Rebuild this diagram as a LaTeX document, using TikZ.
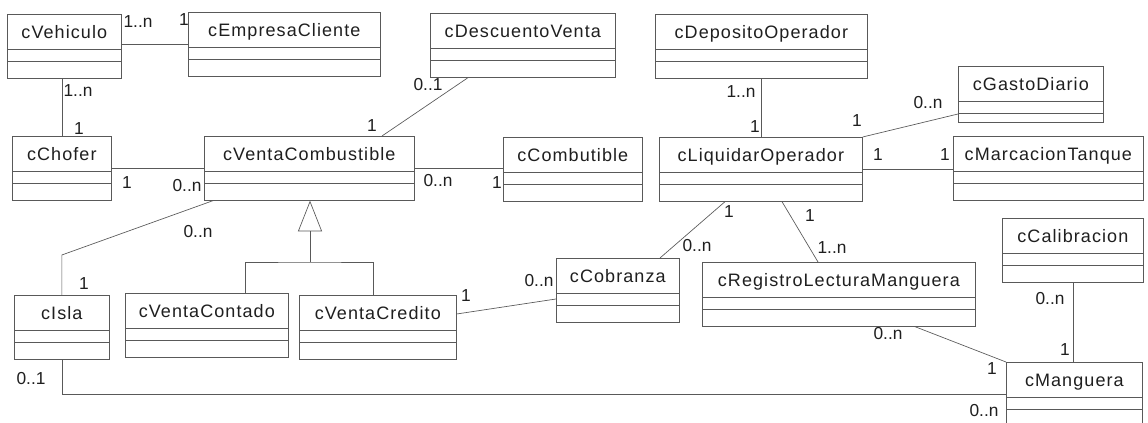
\documentclass[tikz,border=0pt]{standalone}
\usepackage{fontspec}
\setmainfont{Liberation Sans}
\newfontfamily\clsfont{Liberation Sans}[LetterSpace=6]
\usetikzlibrary{arrows.meta}

\definecolor{trazo}{gray}{0.35}
\definecolor{tinta}{gray}{0.12}

\tikzset{
	clase/.style={draw=trazo, line width=0.5pt, anchor=north west, minimum width=#1*0.75pt,
		inner xsep=0pt, inner ysep=0pt, text height=18pt, text depth=30pt, text=tinta,
		font=\clsfont\fontsize{13.5}{16}\selectfont,
		path picture={
			\draw[trazo, line width=0.5pt] ([yshift=-26.25pt]path picture bounding box.north west) -- ([yshift=-26.25pt]path picture bounding box.north east);
			\draw[trazo, line width=0.5pt] ([yshift=-35.25pt]path picture bounding box.north west) -- ([yshift=-35.25pt]path picture bounding box.north east);
		}},
	asoc/.style={draw=trazo, line width=0.5pt},
	mult/.style={text=tinta, inner sep=0pt, font=\fontsize{13}{15}\selectfont}
}

\begin{document}
\begin{tikzpicture}[x=0.75pt, y=-0.75pt]
	\fill[white] (0,0) rectangle (1148,423);
	\clip (0,0) rectangle (1148,423);   % page

	% clases
	\node[clase=114] (vehiculo) at (7,14) {cVehiculo};
	\node[clase=192] (empresa) at (188,12) {cEmpresaCliente};
	\node[clase=185] (descuento) at (430,13) {cDescuentoVenta};
	\node[clase=212] (deposito) at (655,14) {cDepositoOperador};
	\node[clase=145, text depth=24pt] (gasto) at (958,66) {cGastoDiario};   % smaller box
	\node[clase=99] (chofer) at (12,136) {cChofer};
	\node[clase=210] (venta) at (204,136) {cVentaCombustible};
	\node[clase=139] (combustible) at (503,137) {cCombutible};
	\node[clase=203] (liquidar) at (659,137) {cLiquidarOperador};
	\node[clase=190] (marcacion) at (953,136) {cMarcacionTanque};
	\node[clase=141] (calibracion) at (1002,218) {cCalibracion};
	\node[clase=123] (cobranza) at (556,258) {cCobranza};
	\node[clase=273] (registro) at (702,262) {cRegistroLecturaManguera};
	\node[clase=95] (isla) at (14,295) {cIsla};
	\node[clase=163] (contado) at (125,293) {cVentaContado};
	\node[clase=157] (credito) at (299,295) {cVentaCredito};
	\node[clase=136] (manguera) at (1006,362) {cManguera};

	% asociaciones
	\draw[asoc] (vehiculo.east |- empresa.west) -- (empresa.west);
	\draw[asoc] (chofer.north |- vehiculo.south) -- (chofer.north);
	\draw[asoc] (chofer.east) -- (chofer.east -| venta.west);
	\draw[asoc] (venta.east) -- (venta.east -| combustible.west);
	\draw[asoc] (468,0 |- descuento.south) -- (382,0 |- venta.north);
	\draw[asoc] (liquidar.north |- deposito.south) -- (liquidar.north);
	\draw[asoc] (liquidar.north east) -- (gasto.west |- 0,114);
	\draw[asoc] (liquidar.east) -- (liquidar.east -| marcacion.west);
	\draw[asoc] (725,0 |- liquidar.south) -- (660,0 |- cobranza.north);
	\draw[asoc] (782,0 |- liquidar.south) -- (818,0 |- registro.north);
	\draw[asoc] (213,0 |- venta.south) -- (isla.north |- 0,255) -- (isla.north);
	\draw[asoc] (credito.east |- 0,314) -- (cobranza.west |- 0,299);
	\draw[asoc] (915,0 |- registro.south) -- (manguera.north west);
	\draw[asoc] (calibracion.south) -- (calibracion.south |- manguera.north);
	\draw[asoc] (isla.south) -- (isla.south |- 0,394) -- (manguera.west |- 0,394);

	% herencia
	\coordinate (junta) at (310,262);
	\draw[asoc, -{Triangle[open, length=23pt, width=18pt]}] (junta) -- (310,0 |- venta.south);
	\draw[asoc] (245,0 |- contado.north) |- (junta) -| (373,0 |- credito.north);

	% multiplicidades
	\node[mult] (m1) at (138,22) {1..n};
	\node[mult] (m2) at (184,20) {1};
	\node[mult] (m3) at (78,91) {1..n};
	\node[mult] (m4) at (79,129) {1};
	\node[mult] (m5) at (127,183) {1};
	\node[mult] (m6) at (187,186) {0..n};
	\node[mult] (m7) at (438,181) {0..n};
	\node[mult] (m8) at (497,183) {1};
	\node[mult] (m9) at (428,85) {0..1};
	\node[mult] (m10) at (372,126) {1};
	\node[mult] (m11) at (741,92) {1..n};
	\node[mult] (m12) at (755,127) {1};
	\node[mult] (m13) at (928,103) {0..n};
	\node[mult] (m14) at (857,121) {1};
	\node[mult] (m15) at (878,155) {1};
	\node[mult] (m16) at (945,155) {1};
	\node[mult] (m17) at (729,212) {1};
	\node[mult] (m18) at (697,246) {0..n};
	\node[mult] (m19) at (810,216) {1};
	\node[mult] (m20) at (832,248) {1..n};
	\node[mult] (m21) at (198,232) {0..n};
	\node[mult] (m22) at (84,284) {1};
	\node[mult] (m23) at (466,296) {1};
	\node[mult] (m24) at (539,281) {0..n};
	\node[mult] (m25) at (888,334) {0..n};
	\node[mult] (m26) at (992,369) {1};
	\node[mult] (m27) at (1050,299) {0..n};
	\node[mult] (m28) at (1065,350) {1};
	\node[mult] (m29) at (31,379) {0..1};
	\node[mult] (m30) at (984,411) {0..n};
\end{tikzpicture}
\end{document}
